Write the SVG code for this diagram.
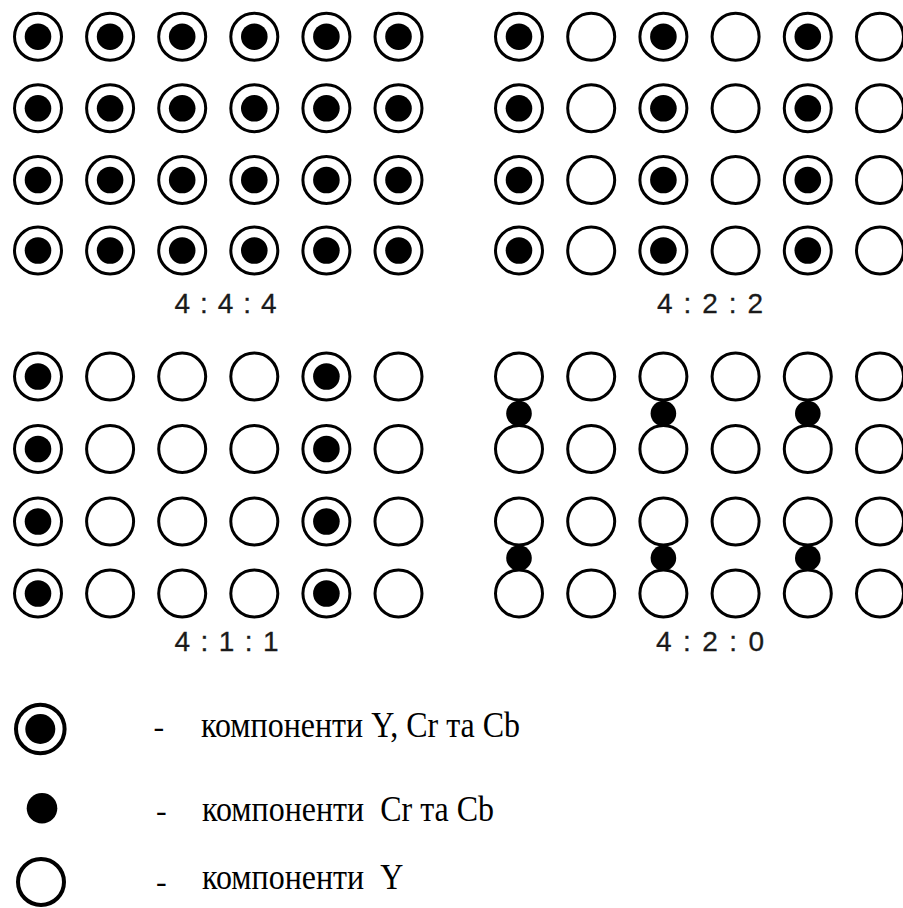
<svg xmlns="http://www.w3.org/2000/svg" xmlns:xlink="http://www.w3.org/1999/xlink" width="903" height="908" viewBox="0 0 903 908">
<style>
.ring{fill:#fff;stroke:#000;stroke-width:3}
.dot{fill:#000}
.lbl{font-family:"Liberation Sans",Arial,sans-serif;font-size:28px;fill:#1a1a1a;stroke:#1a1a1a;stroke-width:0.3}
.leg{font-family:"Liberation Serif","Times New Roman",serif;font-size:32px;fill:#000;white-space:pre}
.lring{fill:#fff;stroke:#000;stroke-width:4}
</style>
<defs>
<g id="yc"><circle class="ring" r="23.5"/><circle class="dot" r="13.3"/></g>
<g id="y"><circle class="ring" r="23.5"/></g>
</defs>
<rect width="903" height="908" fill="#fff"/>

<g id="grid-444">
<use xlink:href="#yc" x="38" y="36.7"/><use xlink:href="#yc" x="110.1" y="36.7"/><use xlink:href="#yc" x="182.2" y="36.7"/><use xlink:href="#yc" x="254.3" y="36.7"/><use xlink:href="#yc" x="326.4" y="36.7"/><use xlink:href="#yc" x="398.5" y="36.7"/>
<use xlink:href="#yc" x="38" y="108.3"/><use xlink:href="#yc" x="110.1" y="108.3"/><use xlink:href="#yc" x="182.2" y="108.3"/><use xlink:href="#yc" x="254.3" y="108.3"/><use xlink:href="#yc" x="326.4" y="108.3"/><use xlink:href="#yc" x="398.5" y="108.3"/>
<use xlink:href="#yc" x="38" y="180"/><use xlink:href="#yc" x="110.1" y="180"/><use xlink:href="#yc" x="182.2" y="180"/><use xlink:href="#yc" x="254.3" y="180"/><use xlink:href="#yc" x="326.4" y="180"/><use xlink:href="#yc" x="398.5" y="180"/>
<use xlink:href="#yc" x="38" y="250.5"/><use xlink:href="#yc" x="110.1" y="250.5"/><use xlink:href="#yc" x="182.2" y="250.5"/><use xlink:href="#yc" x="254.3" y="250.5"/><use xlink:href="#yc" x="326.4" y="250.5"/><use xlink:href="#yc" x="398.5" y="250.5"/>
<text class="lbl" x="174.5" y="312.5" textLength="102" lengthAdjust="spacing">4 : 4 : 4</text>
</g>

<g id="grid-422">
<use xlink:href="#yc" x="519" y="36.7"/><use xlink:href="#y" x="591.2" y="36.7"/><use xlink:href="#yc" x="663.4" y="36.7"/><use xlink:href="#y" x="735.6" y="36.7"/><use xlink:href="#yc" x="807.8" y="36.7"/><use xlink:href="#y" x="880" y="36.7"/>
<use xlink:href="#yc" x="519" y="108.3"/><use xlink:href="#y" x="591.2" y="108.3"/><use xlink:href="#yc" x="663.4" y="108.3"/><use xlink:href="#y" x="735.6" y="108.3"/><use xlink:href="#yc" x="807.8" y="108.3"/><use xlink:href="#y" x="880" y="108.3"/>
<use xlink:href="#yc" x="519" y="180"/><use xlink:href="#y" x="591.2" y="180"/><use xlink:href="#yc" x="663.4" y="180"/><use xlink:href="#y" x="735.6" y="180"/><use xlink:href="#yc" x="807.8" y="180"/><use xlink:href="#y" x="880" y="180"/>
<use xlink:href="#yc" x="519" y="250.5"/><use xlink:href="#y" x="591.2" y="250.5"/><use xlink:href="#yc" x="663.4" y="250.5"/><use xlink:href="#y" x="735.6" y="250.5"/><use xlink:href="#yc" x="807.8" y="250.5"/><use xlink:href="#y" x="880" y="250.5"/>
<text class="lbl" x="657" y="312.5" textLength="106" lengthAdjust="spacing">4 : 2 : 2</text>
</g>

<g id="grid-411">
<use xlink:href="#yc" x="38" y="376.5"/><use xlink:href="#y" x="110.1" y="376.5"/><use xlink:href="#y" x="182.2" y="376.5"/><use xlink:href="#y" x="254.3" y="376.5"/><use xlink:href="#yc" x="326.4" y="376.5"/><use xlink:href="#y" x="398.5" y="376.5"/>
<use xlink:href="#yc" x="38" y="449"/><use xlink:href="#y" x="110.1" y="449"/><use xlink:href="#y" x="182.2" y="449"/><use xlink:href="#y" x="254.3" y="449"/><use xlink:href="#yc" x="326.4" y="449"/><use xlink:href="#y" x="398.5" y="449"/>
<use xlink:href="#yc" x="38" y="521.5"/><use xlink:href="#y" x="110.1" y="521.5"/><use xlink:href="#y" x="182.2" y="521.5"/><use xlink:href="#y" x="254.3" y="521.5"/><use xlink:href="#yc" x="326.4" y="521.5"/><use xlink:href="#y" x="398.5" y="521.5"/>
<use xlink:href="#yc" x="38" y="593.5"/><use xlink:href="#y" x="110.1" y="593.5"/><use xlink:href="#y" x="182.2" y="593.5"/><use xlink:href="#y" x="254.3" y="593.5"/><use xlink:href="#yc" x="326.4" y="593.5"/><use xlink:href="#y" x="398.5" y="593.5"/>
<text class="lbl" x="174.5" y="650.5" textLength="104" lengthAdjust="spacing">4 : 1 : 1</text>
</g>

<g id="grid-420">
<use xlink:href="#y" x="519" y="376.5"/><use xlink:href="#y" x="591.2" y="376.5"/><use xlink:href="#y" x="663.4" y="376.5"/><use xlink:href="#y" x="735.6" y="376.5"/><use xlink:href="#y" x="807.8" y="376.5"/><use xlink:href="#y" x="880" y="376.5"/>
<use xlink:href="#y" x="519" y="449"/><use xlink:href="#y" x="591.2" y="449"/><use xlink:href="#y" x="663.4" y="449"/><use xlink:href="#y" x="735.6" y="449"/><use xlink:href="#y" x="807.8" y="449"/><use xlink:href="#y" x="880" y="449"/>
<use xlink:href="#y" x="519" y="521.5"/><use xlink:href="#y" x="591.2" y="521.5"/><use xlink:href="#y" x="663.4" y="521.5"/><use xlink:href="#y" x="735.6" y="521.5"/><use xlink:href="#y" x="807.8" y="521.5"/><use xlink:href="#y" x="880" y="521.5"/>
<use xlink:href="#y" x="519" y="593.5"/><use xlink:href="#y" x="591.2" y="593.5"/><use xlink:href="#y" x="663.4" y="593.5"/><use xlink:href="#y" x="735.6" y="593.5"/><use xlink:href="#y" x="807.8" y="593.5"/><use xlink:href="#y" x="880" y="593.5"/>
<circle class="dot" cx="519" cy="413.5" r="12.8"/><circle class="dot" cx="663.4" cy="413.5" r="12.8"/><circle class="dot" cx="807.8" cy="413.5" r="12.8"/>
<circle class="dot" cx="519" cy="558" r="12.8"/><circle class="dot" cx="663.4" cy="558" r="12.8"/><circle class="dot" cx="807.8" cy="558" r="12.8"/>
<text class="lbl" x="656" y="650.5" textLength="108" lengthAdjust="spacing">4 : 2 : 0</text>
</g>

<g id="legend-ycrcb">
<circle class="lring" cx="40.3" cy="729" r="24.3"/><circle class="dot" cx="40.3" cy="729" r="15"/>
<text class="leg" x="153.5" y="736.5">-</text>
<text class="leg" transform="translate(0,736.5) scale(1,1.12)" x="201" y="0">компоненти Y, Cr та Cb</text>
</g>
<g id="legend-crcb">
<circle class="dot" cx="42" cy="808.3" r="15.3"/>
<text class="leg" x="156" y="820.5">-</text>
<text class="leg" transform="translate(0,820.5) scale(1,1.12)" x="202" y="0">компоненти  Cr та Cb</text>
</g>
<g id="legend-y">
<circle class="lring" cx="41" cy="882" r="23"/>
<text class="leg" x="156" y="892">-</text>
<text class="leg" transform="translate(0,889) scale(1,1.12)" x="202" y="0">компоненти  Y</text>
</g>
</svg>
